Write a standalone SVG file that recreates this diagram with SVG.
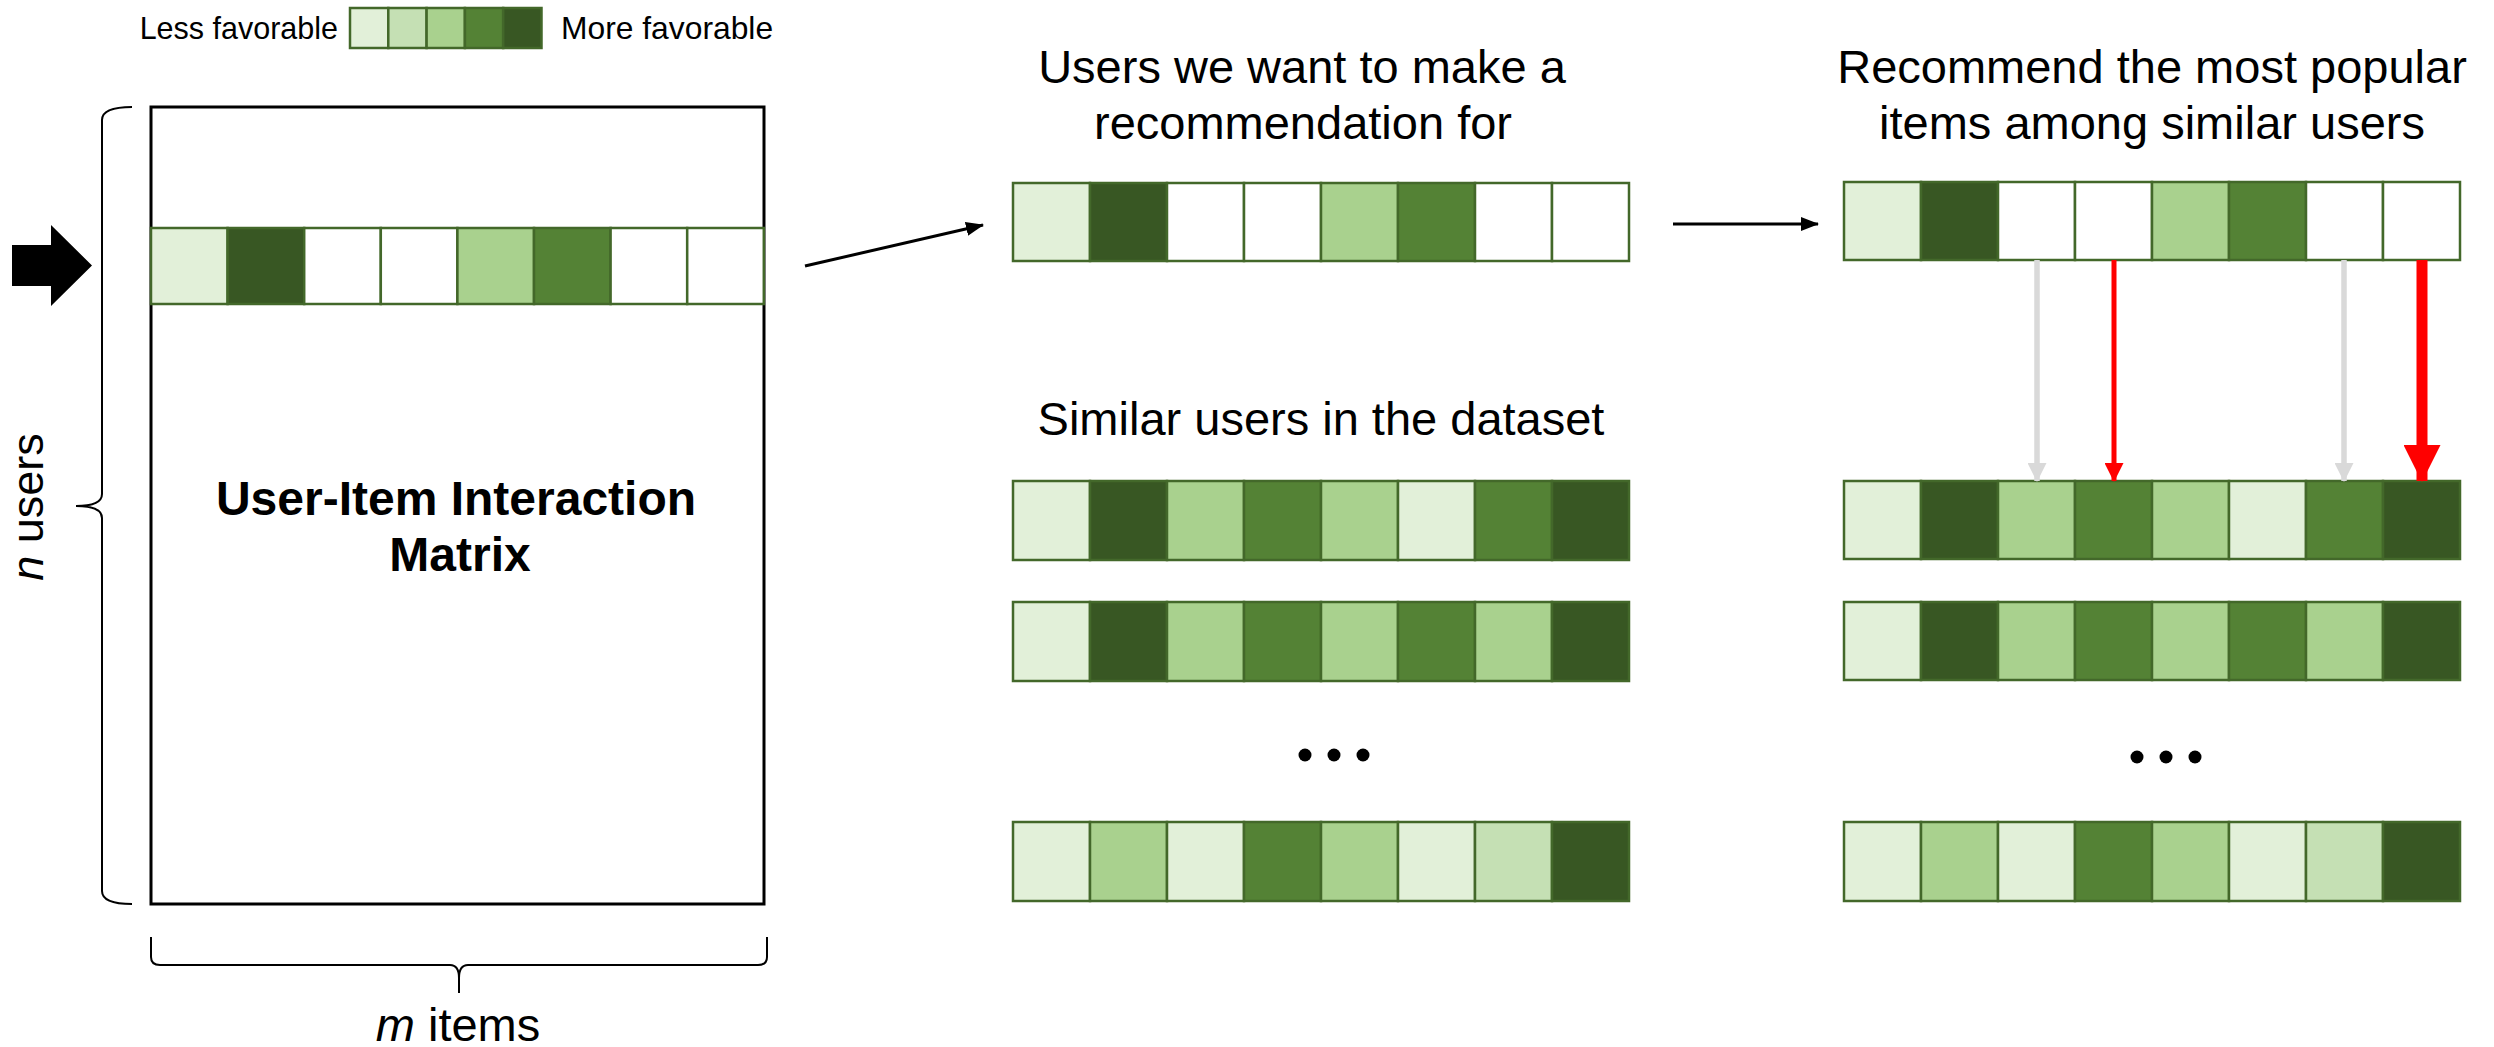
<svg xmlns="http://www.w3.org/2000/svg" width="2494" height="1047" viewBox="0 0 2494 1047">
<style>
text{font-family:"Liberation Sans",Arial,sans-serif;fill:#000}
.t{font-size:47px;text-anchor:middle}
.lg{font-size:30.5px}
.lg2{font-size:31.8px}
.cell{stroke:#43682A;stroke-width:2.5}
.c0{fill:#FFFFFF}.c1{fill:#E2F0D9}.c2{fill:#C5E0B4}.c3{fill:#A9D18E}.c4{fill:#548235}.c5{fill:#385723}
.br{fill:none;stroke:#000;stroke-width:2}
.ln{stroke:#000;stroke-width:3;fill:none}
</style>
<defs>
<marker id="ah" markerUnits="userSpaceOnUse" markerWidth="18" markerHeight="14" refX="17" refY="7" orient="auto"><path d="M0,0 L18,7 L0,14 Z" fill="#000"/></marker>
<marker id="ahg" markerUnits="userSpaceOnUse" markerWidth="19" markerHeight="19" refX="18" refY="9.5" orient="auto"><path d="M0,0 L19,9.5 L0,19 Z" fill="#D9D9D9"/></marker>
<marker id="ahr" markerUnits="userSpaceOnUse" markerWidth="19" markerHeight="19" refX="18" refY="9.5" orient="auto"><path d="M0,0 L19,9.5 L0,19 Z" fill="#FF0000"/></marker>
<marker id="ahR" markerUnits="userSpaceOnUse" markerWidth="37" markerHeight="37" refX="36" refY="18.5" orient="auto"><path d="M0,0 L37,18.5 L0,37 Z" fill="#FF0000"/></marker>
</defs>
<rect width="2494" height="1047" fill="#FFFFFF"/>

<g id="legend">
<text class="lg" x="338" y="39" text-anchor="end">Less favorable</text>
<rect class="cell c1" x="350" y="8" width="38.3" height="40"/>
<rect class="cell c2" x="388.3" y="8" width="38.3" height="40"/>
<rect class="cell c3" x="426.6" y="8" width="38.3" height="40"/>
<rect class="cell c4" x="464.9" y="8" width="38.3" height="40"/>
<rect class="cell c5" x="503.2" y="8" width="38.3" height="40"/>
<text class="lg2" x="561" y="39">More favorable</text>
</g>

<g id="matrix">
<rect x="151" y="107" width="613" height="797" fill="#FFFFFF" stroke="#000" stroke-width="3"/>
<g id="matrix-row" transform="translate(151,228)">
<rect class="cell c1" x="0" y="0" width="76.6" height="76"/>
<rect class="cell c5" x="76.6" y="0" width="76.6" height="76"/>
<rect class="cell c0" x="153.2" y="0" width="76.6" height="76"/>
<rect class="cell c0" x="229.8" y="0" width="76.6" height="76"/>
<rect class="cell c3" x="306.4" y="0" width="76.6" height="76"/>
<rect class="cell c4" x="383" y="0" width="76.6" height="76"/>
<rect class="cell c0" x="459.6" y="0" width="76.6" height="76"/>
<rect class="cell c0" x="536.2" y="0" width="76.6" height="76"/>
</g>
<text x="456" y="515" font-size="48" font-weight="bold" text-anchor="middle">User-Item Interaction</text>
<text x="460" y="571" font-size="48" font-weight="bold" text-anchor="middle">Matrix</text>
</g>

<g id="pointer">
<polygon points="12,245 51,245 51,225 92,265.5 51,306 51,286 12,286" fill="#000"/>
</g>

<g id="users-brace">
<path class="br" d="M132,107 Q102,107 102,120 L102,494 Q102,506 76,506 Q102,506 102,518 L102,891 Q102,904 132,904"/>
<text x="43" y="507" font-size="45" text-anchor="middle" transform="rotate(-90 43 507)"><tspan font-style="italic">n</tspan> users</text>
</g>

<g id="items-brace">
<path class="br" d="M151,937 L151,957 Q151,965 160,965 L450,965 Q459,965 459,978 L459,993 M459,978 Q459,965 468,965 L758,965 Q767,965 767,957 L767,937"/>
<text x="458" y="1041" font-size="47" text-anchor="middle"><tspan font-style="italic">m</tspan> items</text>
</g>

<g id="target-user">
<text class="t" x="1302" y="83">Users we want to make a</text>
<text class="t" x="1303" y="139">recommendation for</text>
<g transform="translate(1013,183)">
<rect class="cell c1" x="0" y="0" width="77" height="78"/>
<rect class="cell c5" x="77" y="0" width="77" height="78"/>
<rect class="cell c0" x="154" y="0" width="77" height="78"/>
<rect class="cell c0" x="231" y="0" width="77" height="78"/>
<rect class="cell c3" x="308" y="0" width="77" height="78"/>
<rect class="cell c4" x="385" y="0" width="77" height="78"/>
<rect class="cell c0" x="462" y="0" width="77" height="78"/>
<rect class="cell c0" x="539" y="0" width="77" height="78"/>
</g>
</g>

<g id="similar-users">
<text class="t" x="1321" y="435">Similar users in the dataset</text>
<g transform="translate(1013,481)">
<rect class="cell c1" x="0" y="0" width="77" height="79"/>
<rect class="cell c5" x="77" y="0" width="77" height="79"/>
<rect class="cell c3" x="154" y="0" width="77" height="79"/>
<rect class="cell c4" x="231" y="0" width="77" height="79"/>
<rect class="cell c3" x="308" y="0" width="77" height="79"/>
<rect class="cell c1" x="385" y="0" width="77" height="79"/>
<rect class="cell c4" x="462" y="0" width="77" height="79"/>
<rect class="cell c5" x="539" y="0" width="77" height="79"/>
</g>
<g transform="translate(1013,602)">
<rect class="cell c1" x="0" y="0" width="77" height="79"/>
<rect class="cell c5" x="77" y="0" width="77" height="79"/>
<rect class="cell c3" x="154" y="0" width="77" height="79"/>
<rect class="cell c4" x="231" y="0" width="77" height="79"/>
<rect class="cell c3" x="308" y="0" width="77" height="79"/>
<rect class="cell c4" x="385" y="0" width="77" height="79"/>
<rect class="cell c3" x="462" y="0" width="77" height="79"/>
<rect class="cell c5" x="539" y="0" width="77" height="79"/>
</g>
<circle cx="1305" cy="755" r="6.5"/><circle cx="1334" cy="755" r="6.5"/><circle cx="1363" cy="755" r="6.5"/>
<g transform="translate(1013,822)">
<rect class="cell c1" x="0" y="0" width="77" height="79"/>
<rect class="cell c3" x="77" y="0" width="77" height="79"/>
<rect class="cell c1" x="154" y="0" width="77" height="79"/>
<rect class="cell c4" x="231" y="0" width="77" height="79"/>
<rect class="cell c3" x="308" y="0" width="77" height="79"/>
<rect class="cell c1" x="385" y="0" width="77" height="79"/>
<rect class="cell c2" x="462" y="0" width="77" height="79"/>
<rect class="cell c5" x="539" y="0" width="77" height="79"/>
</g>
</g>

<g id="recommend-user">
<text class="t" x="2152" y="83">Recommend the most popular</text>
<text class="t" x="2152" y="139">items among similar users</text>
<g transform="translate(1844,182)">
<rect class="cell c1" x="0" y="0" width="77" height="78"/>
<rect class="cell c5" x="77" y="0" width="77" height="78"/>
<rect class="cell c0" x="154" y="0" width="77" height="78"/>
<rect class="cell c0" x="231" y="0" width="77" height="78"/>
<rect class="cell c3" x="308" y="0" width="77" height="78"/>
<rect class="cell c4" x="385" y="0" width="77" height="78"/>
<rect class="cell c0" x="462" y="0" width="77" height="78"/>
<rect class="cell c0" x="539" y="0" width="77" height="78"/>
</g>
</g>

<g id="similar-users-right">
<g transform="translate(1844,481)">
<rect class="cell c1" x="0" y="0" width="77" height="78"/>
<rect class="cell c5" x="77" y="0" width="77" height="78"/>
<rect class="cell c3" x="154" y="0" width="77" height="78"/>
<rect class="cell c4" x="231" y="0" width="77" height="78"/>
<rect class="cell c3" x="308" y="0" width="77" height="78"/>
<rect class="cell c1" x="385" y="0" width="77" height="78"/>
<rect class="cell c4" x="462" y="0" width="77" height="78"/>
<rect class="cell c5" x="539" y="0" width="77" height="78"/>
</g>
<g transform="translate(1844,602)">
<rect class="cell c1" x="0" y="0" width="77" height="78"/>
<rect class="cell c5" x="77" y="0" width="77" height="78"/>
<rect class="cell c3" x="154" y="0" width="77" height="78"/>
<rect class="cell c4" x="231" y="0" width="77" height="78"/>
<rect class="cell c3" x="308" y="0" width="77" height="78"/>
<rect class="cell c4" x="385" y="0" width="77" height="78"/>
<rect class="cell c3" x="462" y="0" width="77" height="78"/>
<rect class="cell c5" x="539" y="0" width="77" height="78"/>
</g>
<circle cx="2137" cy="757" r="6.5"/><circle cx="2166" cy="757" r="6.5"/><circle cx="2195" cy="757" r="6.5"/>
<g transform="translate(1844,822)">
<rect class="cell c1" x="0" y="0" width="77" height="79"/>
<rect class="cell c3" x="77" y="0" width="77" height="79"/>
<rect class="cell c1" x="154" y="0" width="77" height="79"/>
<rect class="cell c4" x="231" y="0" width="77" height="79"/>
<rect class="cell c3" x="308" y="0" width="77" height="79"/>
<rect class="cell c1" x="385" y="0" width="77" height="79"/>
<rect class="cell c2" x="462" y="0" width="77" height="79"/>
<rect class="cell c5" x="539" y="0" width="77" height="79"/>
</g>
</g>

<g id="connectors">
<line class="ln" x1="805" y1="266" x2="983" y2="225" marker-end="url(#ah)"/>
<line class="ln" x1="1673" y1="224" x2="1818" y2="224" marker-end="url(#ah)"/>
<line x1="2037" y1="260" x2="2037" y2="481" stroke="#D9D9D9" stroke-width="5.5" marker-end="url(#ahg)"/>
<line x1="2114" y1="260" x2="2114" y2="481" stroke="#FF0000" stroke-width="5" marker-end="url(#ahr)"/>
<line x1="2344" y1="260" x2="2344" y2="481" stroke="#D9D9D9" stroke-width="5.5" marker-end="url(#ahg)"/>
<line x1="2422" y1="260" x2="2422" y2="481" stroke="#FF0000" stroke-width="11" marker-end="url(#ahR)"/>
</g>
</svg>
